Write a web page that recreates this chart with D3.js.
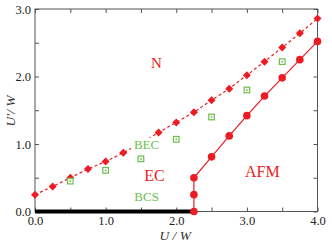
<!DOCTYPE html>
<html>
<head>
<meta charset="utf-8">
<script src="https://cdn.jsdelivr.net/npm/d3@7"></script>
<style>
  body { margin: 0; background: #fff; }
  svg text { font-family: "Liberation Serif", "DejaVu Serif", serif; }
</style>
</head>
<body>
<svg id="chart"></svg>
<script>
const width = 332;
const height = 248;
const margin = { top: 9, right: 14.5, bottom: 36.5, left: 35 };

// N / EC boundary (diamonds, dashed)
const nX = [0, 0.25, 0.5, 0.75, 1.0, 1.25, 1.5, 1.75, 2.0, 2.25, 2.5, 2.75, 3.0, 3.25, 3.5, 3.75, 4.0];
const nY = [0.25, 0.37, 0.5, 0.63, 0.74, 0.87, 1.02, 1.17, 1.32, 1.47, 1.65, 1.82, 2.02, 2.22, 2.43, 2.64, 2.86];
// AFM boundary (circles, solid)
const afmX = [2.25, 2.25, 2.25, 2.5, 2.75, 3.0, 3.25, 3.5, 3.75, 4.0];
const afmY = [0, 0.25, 0.5, 0.81, 1.12, 1.42, 1.71, 1.98, 2.25, 2.52];
// BEC / BCS crossover (open squares)
const crossX = [0.5, 1.0, 1.5, 2.0, 2.5, 3.0, 3.5];
const crossY = [0.45, 0.61, 0.78, 1.07, 1.4, 1.8, 2.22];
// thick line on U'=0
const ecLineX = [0, 2.25];

const xTicks = [0, 0.5, 1, 1.5, 2, 2.5, 3, 3.5, 4];
const yTicks = [0, 0.5, 1, 1.5, 2, 2.5, 3];

const red = "#ec1c24";
const green = "#6cbf4a";

const svg = d3.select("#chart").attr("width", width).attr("height", height);

const x = d3.scaleLinear().domain([0, 4]).range([margin.left, width - margin.right]);
const y = d3.scaleLinear().domain([0, 3]).range([height - margin.bottom, margin.top]);

const fmt = d => (d % 1 === 0 ? d.toFixed(1) : "");

// frame
svg.append("rect")
  .attr("x", x(0)).attr("y", y(3))
  .attr("width", x(4) - x(0)).attr("height", y(0) - y(3))
  .attr("fill", "none").attr("stroke", "#555").attr("stroke-width", 1);

function styleAxis(g) {
  g.select(".domain").remove();
  g.selectAll(".tick line").attr("stroke", "#555");
  g.selectAll(".tick text").attr("fill", "#222").style("font-size", "12.5px");
}

svg.append("g")
  .attr("transform", `translate(0,${y(0)})`)
  .call(d3.axisBottom(x).tickValues(xTicks).tickSize(-4).tickPadding(5).tickFormat(fmt))
  .call(styleAxis);
svg.append("g")
  .attr("transform", `translate(0,${y(3)})`)
  .call(d3.axisTop(x).tickValues(xTicks).tickSize(-4).tickFormat(""))
  .call(styleAxis);
svg.append("g")
  .attr("transform", `translate(${x(0)},0)`)
  .call(d3.axisLeft(y).tickValues(yTicks).tickSize(-4).tickPadding(4).tickFormat(fmt))
  .call(styleAxis);
svg.append("g")
  .attr("transform", `translate(${x(4)},0)`)
  .call(d3.axisRight(y).tickValues(yTicks).tickSize(-4).tickFormat(""))
  .call(styleAxis);

// thick black EC line along U'=0
svg.append("line")
  .attr("x1", x(ecLineX[0])).attr("x2", x(ecLineX[1]))
  .attr("y1", y(0)).attr("y2", y(0))
  .attr("stroke", "#000").attr("stroke-width", 4);

const line = d3.line().x(d => x(d[0])).y(d => y(d[1]));

// N boundary
const nData = nX.map((v, i) => [v, nY[i]]);
svg.append("path")
  .datum(nData)
  .attr("d", line)
  .attr("fill", "none")
  .attr("stroke", red)
  .attr("stroke-width", 1.2)
  .attr("stroke-dasharray", "3,2.5");
svg.selectAll(".dia")
  .data(nData)
  .enter()
  .append("path")
  .attr("class", "dia")
  .attr("transform", d => `translate(${x(d[0])},${y(d[1])}) rotate(45)`)
  .attr("d", d3.symbol().type(d3.symbolSquare).size(32))
  .attr("fill", red);

// AFM boundary
const afmData = afmX.map((v, i) => [v, afmY[i]]);
svg.append("path")
  .datum(afmData)
  .attr("d", line)
  .attr("fill", "none")
  .attr("stroke", red)
  .attr("stroke-width", 1.2);
svg.selectAll(".circ")
  .data(afmData)
  .enter()
  .append("circle")
  .attr("class", "circ")
  .attr("cx", d => x(d[0]))
  .attr("cy", d => y(d[1]))
  .attr("r", 3.8)
  .attr("fill", red);

// BEC-BCS crossover
const crossData = crossX.map((v, i) => [v, crossY[i]]);
const sq = svg.selectAll(".sq")
  .data(crossData)
  .enter()
  .append("g")
  .attr("class", "sq")
  .attr("transform", d => `translate(${x(d[0])},${y(d[1])})`);
sq.append("rect")
  .attr("x", -2.8).attr("y", -2.8).attr("width", 5.6).attr("height", 5.6)
  .attr("fill", "#fff").attr("stroke", green).attr("stroke-width", 1.2);
sq.append("rect")
  .attr("x", -0.8).attr("y", -0.8).attr("width", 1.6).attr("height", 1.6)
  .attr("fill", green);

// region labels (white box behind, like the original)
const labels = [
  { t: "N", x: 1.72, y: 2.2, c: red, s: 15 },
  { t: "EC", x: 1.69, y: 0.53, c: red, s: 16 },
  { t: "AFM", x: 3.22, y: 0.6, c: red, s: 16 },
  { t: "BEC", x: 1.58, y: 1.0, c: green, s: 13 },
  { t: "BCS", x: 1.58, y: 0.22, c: green, s: 13 }
];
const lab = svg.selectAll(".lab")
  .data(labels)
  .enter()
  .append("g")
  .attr("class", "lab");
const labText = lab.append("text")
  .attr("x", d => x(d.x))
  .attr("y", d => y(d.y))
  .attr("text-anchor", "middle")
  .attr("dominant-baseline", "central")
  .attr("fill", d => d.c)
  .style("font-size", d => d.s + "px")
  .text(d => d.t);
labText.each(function() {
  const b = this.getBBox();
  d3.select(this.parentNode).insert("rect", "text")
    .attr("x", b.x - 3).attr("y", b.y + 1)
    .attr("width", b.width + 6).attr("height", b.height - 2)
    .attr("fill", "#fff");
});

// axis titles
svg.append("text")
  .attr("x", x(2) - 1)
  .attr("y", 240)
  .attr("text-anchor", "middle")
  .style("font-size", "13.5px")
  .style("font-style", "italic")
  .attr("fill", "#333")
  .text("U / W");
svg.append("text")
  .attr("transform", `translate(15,111) rotate(-90)`)
  .attr("text-anchor", "middle")
  .style("font-size", "13.5px")
  .style("font-style", "italic")
  .attr("fill", "#333")
  .text("U′/ W");
</script>
</body>
</html>
